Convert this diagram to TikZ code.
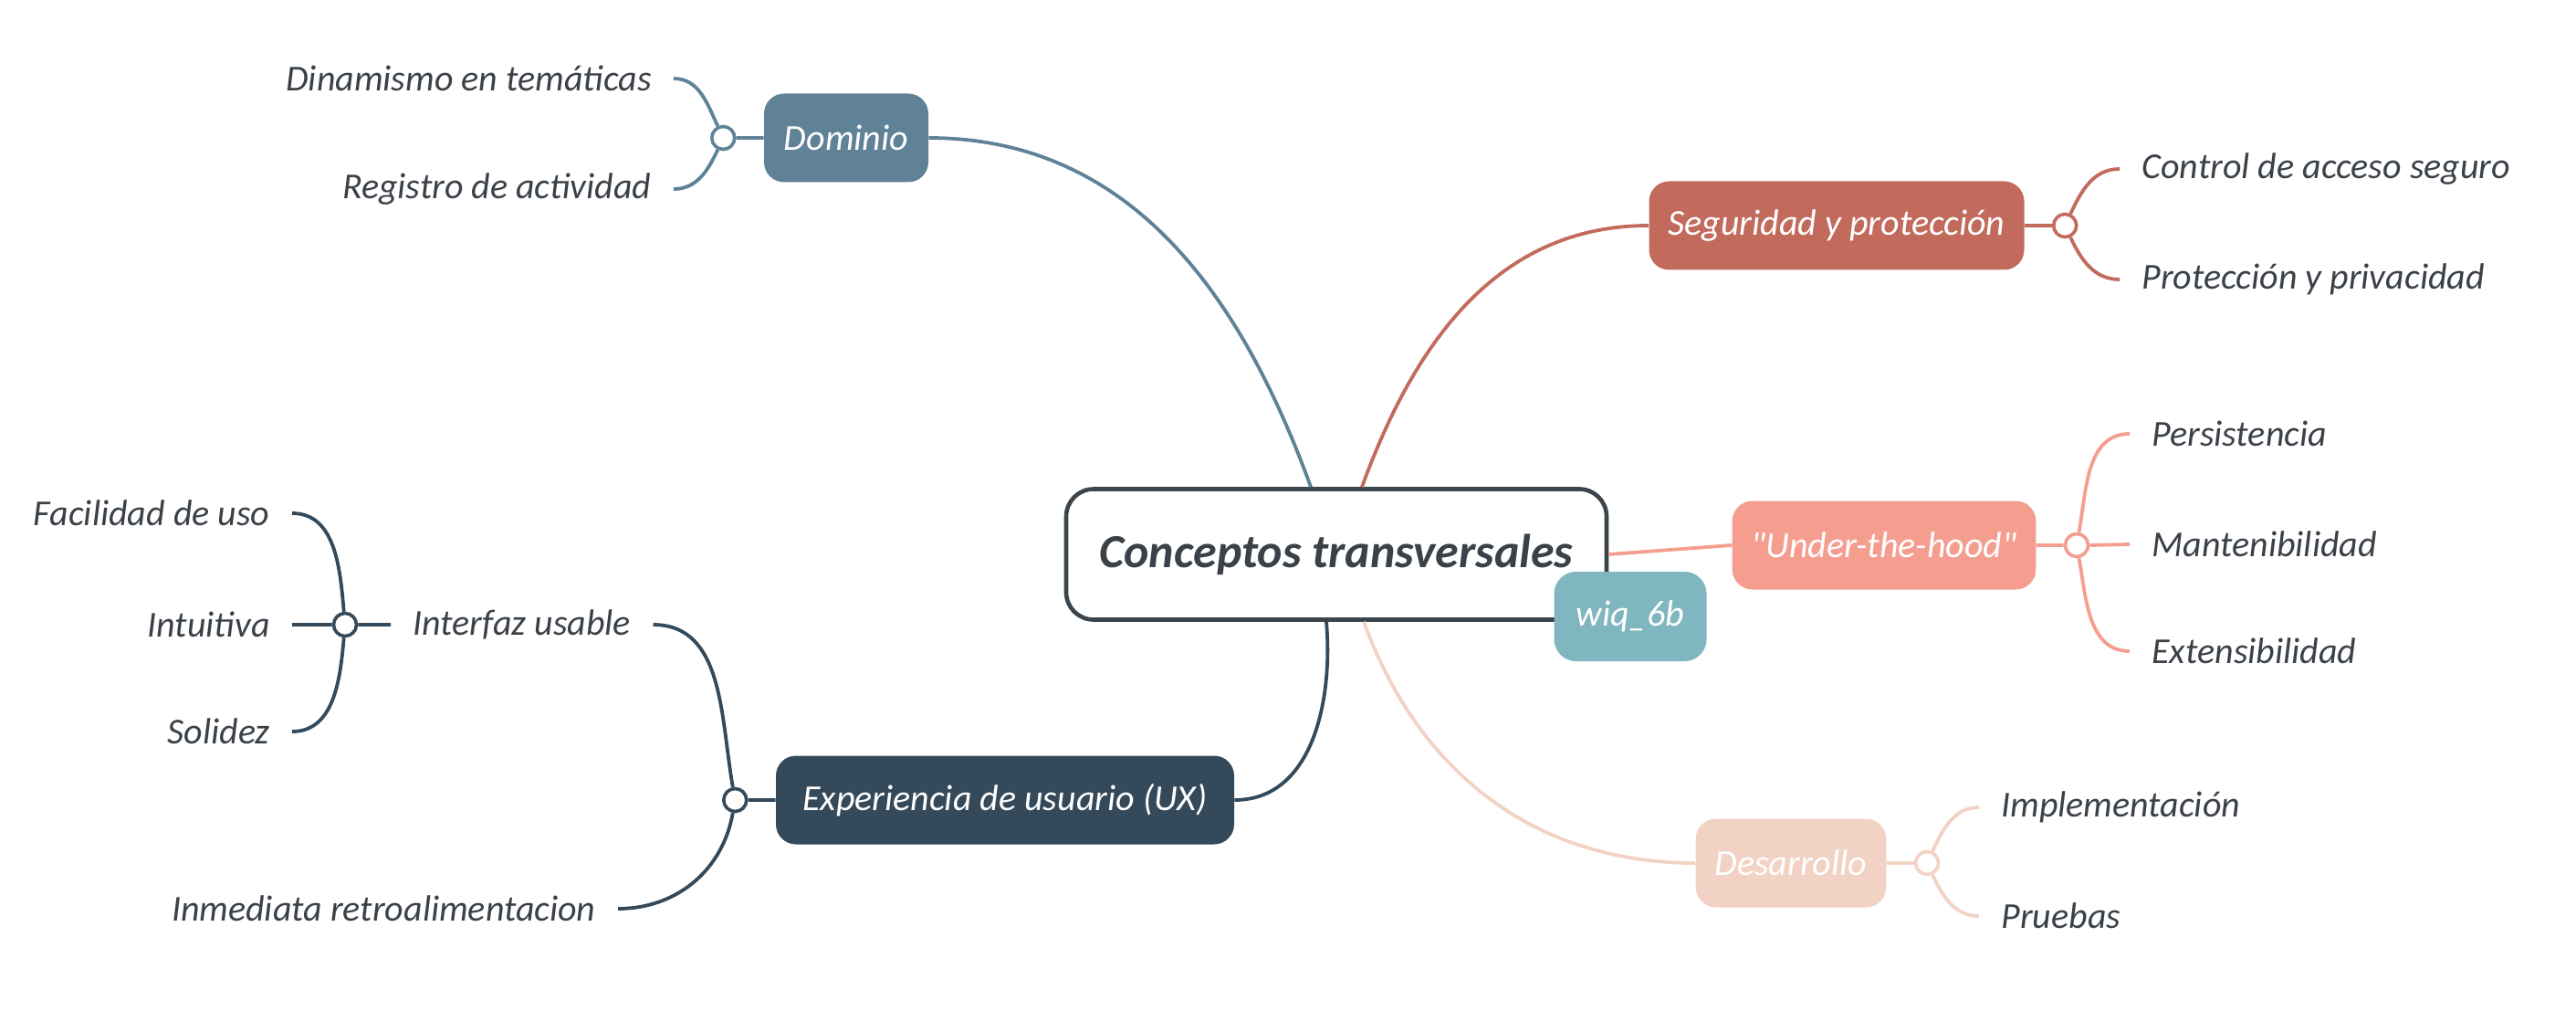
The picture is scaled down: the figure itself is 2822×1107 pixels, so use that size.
\documentclass[tikz,border=0pt]{standalone}
\usepackage{fontspec}
\setmainfont{Carlito}
\usetikzlibrary{positioning}

\definecolor{inkgray}{HTML}{3B4148}
\definecolor{rootline}{HTML}{3C444C}
\definecolor{domcol}{HTML}{5F8297}
\definecolor{segcol}{HTML}{C26B5D}
\definecolor{uthcol}{HTML}{F59E8F}
\definecolor{descol}{HTML}{F2D2C5}
\definecolor{uxcol}{HTML}{344959}
\definecolor{tagcol}{HTML}{80B6BF}

\begin{document}
\begin{tikzpicture}[
	x=0.5pt, y=-0.5pt,
	node distance = 15pt,
	font = \itshape\fontsize{20}{24}\selectfont,
	root/.style = {draw=rootline, line width=2.3pt, rounded corners=15pt, fill=white,
		text=inkgray, minimum width=296pt, minimum height=71.5pt,
		font=\bfseries\itshape\fontsize{26}{30}\selectfont},
	tag/.style = {fill=tagcol, rounded corners=12pt, text=white,
		minimum width=83.5pt, minimum height=49pt},
	topic/.style = {fill=#1, rounded corners=11pt, text=white,
		minimum height=48.5pt, inner xsep=10.5pt},
	leaf/.style = {text=inkgray, inner xsep=12pt, inner ysep=0pt},
	knob/.style = {circle, draw=#1, fill=white, line width=1.8pt,
		minimum size=12.5pt, inner sep=0pt},
	link/.style = {draw=#1, line width=1.9pt}
	]
	\useasboundingbox (0,0) rectangle (2822,1107);

	% centre and main topics
	\node[root] (root) at (1464,607) {Conceptos transversales};
	\node[topic=domcol, minimum width=90pt]    (dom) at (927,151)  {Dominio};
	\node[topic=segcol, minimum width=205.5pt] (seg) at (2012,247) {Seguridad y protección};
	\node[topic=uthcol, minimum width=164.5pt] (uth) at (2064,597) {\textquotedbl Under-the-hood\textquotedbl};
	\node[topic=descol, minimum width=103pt]   (des) at (1962,945) {Desarrollo};
	\node[topic=uxcol, minimum width=251pt]    (ux)  at (1101,876) {Experiencia de usuario (UX)};

	% knobs
	\node[knob=domcol, left=of dom]  (domk) {};
	\node[knob=segcol, right=of seg] (segk) {};
	\node[knob=uthcol, right=of uth] (uthk) {};
	\node[knob=descol, right=of des] (desk) {};
	\node[knob=uxcol, left=of ux]    (uxk)  {};

	% leaves
	\node[leaf, anchor=east] (dom1) at (738,86)  {Dinamismo en temáticas};
	\node[leaf, anchor=east] (dom2) at (738,207) {Registro de actividad};
	\node[leaf, anchor=west] (seg1) at (2322,185) {Control de acceso seguro};
	\node[leaf, anchor=west] (seg2) at (2322,306) {Protección y privacidad};
	\node[leaf, anchor=west] (uth1) at (2333,475) {Persistencia};
	\node[leaf, anchor=west] (uth2) at (2333,596) {Mantenibilidad};
	\node[leaf, anchor=west] (uth3) at (2333,713) {Extensibilidad};
	\node[leaf, anchor=west] (des1) at (2168,884)  {Implementación};
	\node[leaf, anchor=west] (des2) at (2168,1003) {Pruebas};
	\node[leaf, anchor=west] (ux1) at (428,684) {Interfaz usable};
	\node[leaf, anchor=east] (ux2) at (677,995) {Inmediata retroalimentacion};
	\node[knob=uxcol] (ux1k) at (378,684) {};
	\node[leaf, anchor=east] (ux11) at (320,562) {Facilidad de uso};
	\node[leaf, anchor=east] (ux12) at (320,684) {Intuitiva};
	\node[leaf, anchor=east] (ux13) at (320,801) {Solidez};

	% main branches
	\path[link=domcol] (dom.east) to[out=0, in=110] ([xshift=-14pt]root.north);
	\path[link=segcol] ([xshift=14pt]root.north) to[out=70, in=180] (seg.west);
	\path[link=uthcol] (root.east) -- (uth.west);
	\path[link=descol] ([xshift=15pt]root.south) to[out=-70, in=180] (des.west);
	\path[link=uxcol]  ([xshift=-5.5pt]root.south) to[out=-85, in=0] (ux.east);

	% sub branches
	\path[link=domcol] (dom.west) -- (domk.east)
		(domk.115) to[out=115, in=0] (dom1.east)
		(domk.-115) to[out=-115, in=0] (dom2.east);
	\path[link=segcol] (seg.east) -- (segk.west)
		(segk.65) to[out=65, in=180] (seg1.west)
		(segk.-65) to[out=-65, in=180] (seg2.west);
	\path[link=uthcol] (uth.east) -- (uthk.west)
		(uthk.80) to[out=80, in=180] (uth1.west)
		(uthk.east) -- (uth2.west)
		(uthk.-80) to[out=-80, in=180] (uth3.west);
	\path[link=descol] (des.east) -- (desk.west)
		(desk.65) to[out=65, in=180] (des1.west)
		(desk.-65) to[out=-65, in=180] (des2.west);
	\path[link=uxcol] (ux.west) -- (uxk.east)
		(uxk.100) to[out=100, in=0] (ux1.east)
		(uxk.-100) to[out=-100, in=0] (ux2.east);
	\path[link=uxcol] (ux1.west) -- (ux1k.east)
		(ux1k.95) to[out=95, in=0] (ux11.east)
		(ux1k.west) -- (ux12.east)
		(ux1k.-95) to[out=-95, in=0] (ux13.east);

	% tag on top of the centre
	\node[tag] (tag) at (1786,675) {wiq\_6b};
\end{tikzpicture}
\end{document}
